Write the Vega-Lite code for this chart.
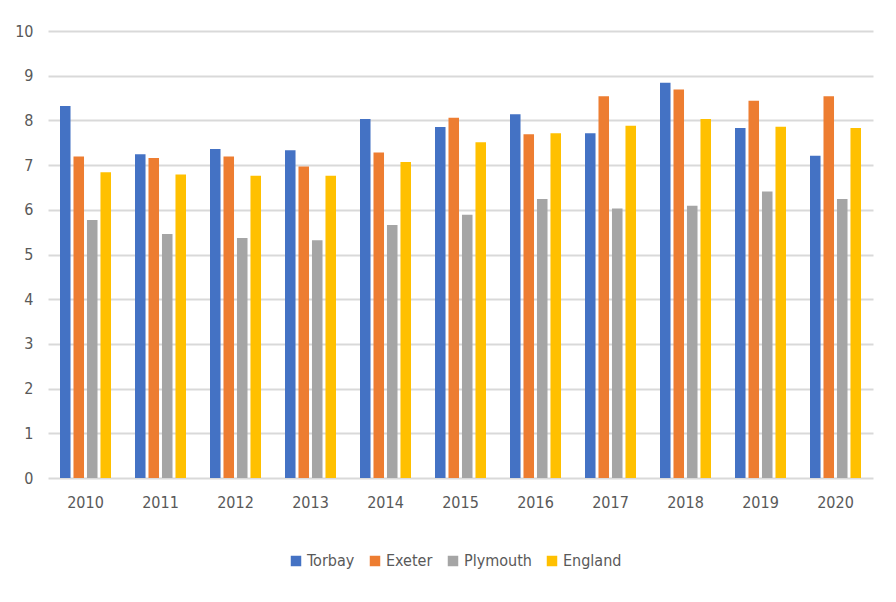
{
  "$schema": "https://vega.github.io/schema/vega-lite/v6.json",
  "autosize": {"type": "none"},
  "width": 825,
  "height": 447,
  "padding": {"left": 48, "top": 31, "right": 23, "bottom": 124},
  "background": "white",
  "data": {
    "values": [
      {"year": "2010", "area": "Torbay", "value": 8.32},
      {"year": "2010", "area": "Exeter", "value": 7.19},
      {"year": "2010", "area": "Plymouth", "value": 5.77},
      {"year": "2010", "area": "England", "value": 6.84},
      {"year": "2011", "area": "Torbay", "value": 7.24},
      {"year": "2011", "area": "Exeter", "value": 7.16},
      {"year": "2011", "area": "Plymouth", "value": 5.46},
      {"year": "2011", "area": "England", "value": 6.79},
      {"year": "2012", "area": "Torbay", "value": 7.36},
      {"year": "2012", "area": "Exeter", "value": 7.19},
      {"year": "2012", "area": "Plymouth", "value": 5.37},
      {"year": "2012", "area": "England", "value": 6.76},
      {"year": "2013", "area": "Torbay", "value": 7.33},
      {"year": "2013", "area": "Exeter", "value": 6.97},
      {"year": "2013", "area": "Plymouth", "value": 5.32},
      {"year": "2013", "area": "England", "value": 6.76},
      {"year": "2014", "area": "Torbay", "value": 8.03},
      {"year": "2014", "area": "Exeter", "value": 7.28},
      {"year": "2014", "area": "Plymouth", "value": 5.66},
      {"year": "2014", "area": "England", "value": 7.07},
      {"year": "2015", "area": "Torbay", "value": 7.85},
      {"year": "2015", "area": "Exeter", "value": 8.06},
      {"year": "2015", "area": "Plymouth", "value": 5.89},
      {"year": "2015", "area": "England", "value": 7.51},
      {"year": "2016", "area": "Torbay", "value": 8.14},
      {"year": "2016", "area": "Exeter", "value": 7.69},
      {"year": "2016", "area": "Plymouth", "value": 6.24},
      {"year": "2016", "area": "England", "value": 7.71},
      {"year": "2017", "area": "Torbay", "value": 7.71},
      {"year": "2017", "area": "Exeter", "value": 8.54},
      {"year": "2017", "area": "Plymouth", "value": 6.03},
      {"year": "2017", "area": "England", "value": 7.88},
      {"year": "2018", "area": "Torbay", "value": 8.84},
      {"year": "2018", "area": "Exeter", "value": 8.69},
      {"year": "2018", "area": "Plymouth", "value": 6.09},
      {"year": "2018", "area": "England", "value": 8.03},
      {"year": "2019", "area": "Torbay", "value": 7.83},
      {"year": "2019", "area": "Exeter", "value": 8.44},
      {"year": "2019", "area": "Plymouth", "value": 6.41},
      {"year": "2019", "area": "England", "value": 7.86},
      {"year": "2020", "area": "Torbay", "value": 7.21},
      {"year": "2020", "area": "Exeter", "value": 8.54},
      {"year": "2020", "area": "Plymouth", "value": 6.24},
      {"year": "2020", "area": "England", "value": 7.83}
    ]
  },
  "mark": {"type": "bar"},
  "encoding": {
    "x": {
      "field": "year", "type": "nominal", "title": null,
      "scale": {"paddingInner": 0.32, "paddingOuter": 0.16},
      "axis": {"labelAngle": 0, "ticks": false, "domain": false, "labelPadding": 16}
    },
    "xOffset": {
      "field": "area", "type": "nominal",
      "sort": ["Torbay", "Exeter", "Plymouth", "England"],
      "scale": {"paddingInner": 0.22}
    },
    "y": {
      "field": "value", "type": "quantitative", "title": null,
      "scale": {"domain": [0, 10], "nice": false},
      "axis": {"values": [0, 1, 2, 3, 4, 5, 6, 7, 8, 9, 10], "ticks": false, "domain": false, "labelPadding": 15}
    },
    "color": {
      "field": "area", "type": "nominal",
      "sort": ["Torbay", "Exeter", "Plymouth", "England"],
      "scale": {
        "domain": ["Torbay", "Exeter", "Plymouth", "England"],
        "range": ["#4472C4", "#ED7D31", "#A5A5A5", "#FFC000"]
      },
      "legend": {
        "title": null, "orient": "none", "direction": "horizontal",
        "legendX": 240, "legendY": 522,
        "symbolType": "square", "symbolSize": 110, "symbolStrokeWidth": 0,
        "columnPadding": 12, "labelOffset": 3
      }
    }
  },
  "config": {
    "view": {"stroke": null},
    "font": "'DejaVu Sans Condensed', 'Liberation Sans', sans-serif",
    "axis": {
      "labelFont": "'DejaVu Sans Condensed', 'Liberation Sans', sans-serif",
      "labelFontSize": 16,
      "labelColor": "#595959",
      "gridColor": "#d9d9d9",
      "gridWidth": 1.8
    },
    "axisX": {"grid": false},
    "legend": {"labelFont": "'DejaVu Sans Condensed', 'Liberation Sans', sans-serif", "labelFontSize": 16, "labelColor": "#595959"}
  }
}
